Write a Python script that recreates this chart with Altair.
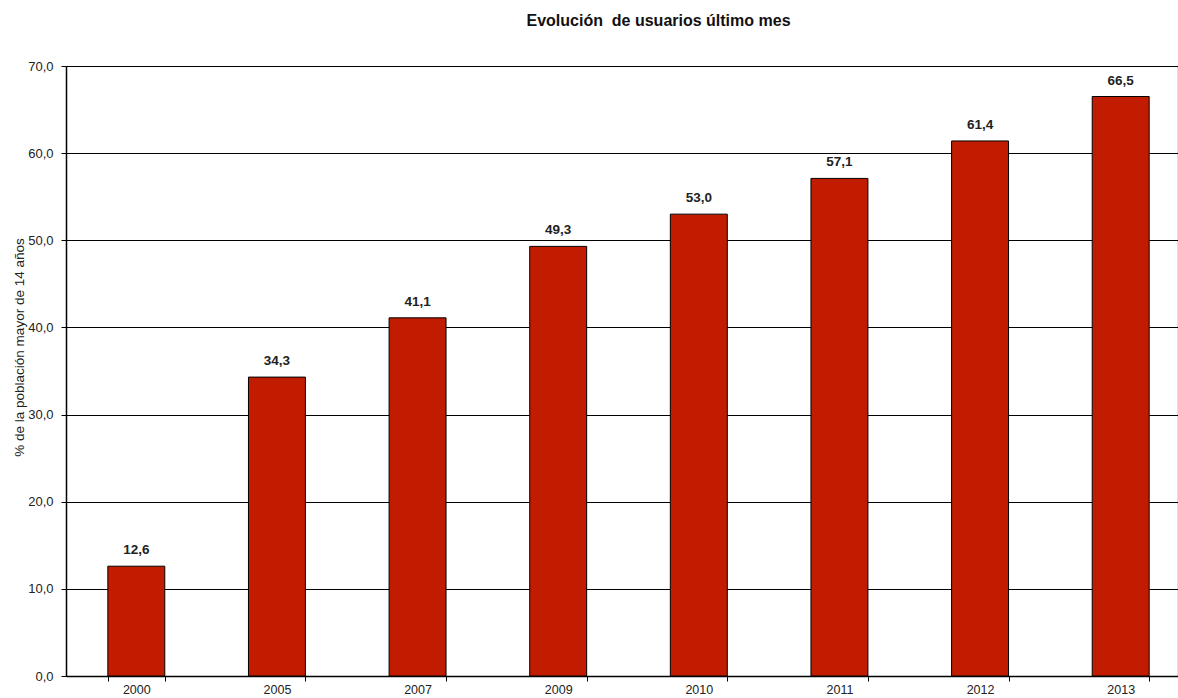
import altair as alt
import pandas as pd

years = ["2000", "2005", "2007", "2009", "2010", "2011", "2012", "2013"]
users_pct = [12.6, 34.3, 41.1, 49.3, 53.0, 57.1, 61.4, 66.5]

df = pd.DataFrame({"year": years, "pct": users_pct})

FONT = "Liberation Sans"
BAR_RED = "#C21C00"
TEXT = "#222222"

# The category band runs slightly past the right edge of the page,
# so the last bar sits close to the border.
x = alt.X(
    "year:N",
    sort=years,
    title=None,
    scale=alt.Scale(range=[0, 1125], paddingInner=0.595, paddingOuter=0.2975),
    axis=alt.Axis(
        labelAngle=0,
        labelFont=FONT,
        labelFontSize=12.5,
        labelColor=TEXT,
        labelPadding=2,
        domainColor="black",
        domainWidth=1.5,
        tickColor="black",
        tickSize=5,
        tickBand="extent",
        grid=False,
    ),
)

y = alt.Y(
    "pct:Q",
    title="% de la población mayor de 14 años",
    scale=alt.Scale(domain=[0, 70], nice=False),
    axis=alt.Axis(
        values=[0, 10, 20, 30, 40, 50, 60, 70],
        labelExpr="replace(format(datum.value, '.1f'), '.', ',')",
        labelFont=FONT,
        labelFontSize=13,
        labelColor=TEXT,
        labelPadding=8,
        titleFont=FONT,
        titleFontSize=13.5,
        titleFontWeight="normal",
        titleColor=TEXT,
        titleAngle=-90,
        titleAlign="center",
        titleBaseline="middle",
        titleX=-47,
        titleY=281,
        domainColor="black",
        domainWidth=1.5,
        tickColor="black",
        tickSize=5,
        grid=True,
        gridColor="black",
        gridWidth=1,
        gridOpacity=1,
    ),
)

bars = alt.Chart(df).mark_bar(
    color=BAR_RED, stroke="black", strokeWidth=1
).encode(x=x, y=y)

labels = alt.Chart(df).transform_calculate(
    label="replace(format(datum.pct, '.1f'), '.', ',')"
).mark_text(
    font=FONT, fontSize=13.5, fontWeight="bold", color=TEXT,
    baseline="bottom", dy=-9,
).encode(x=alt.X("year:N", sort=years), y="pct:Q", text="label:N")

chart = (
    alt.layer(bars, labels)
    .properties(
        width=1111,
        height=610,
        title=alt.TitleParams(
            "Evolución\u00a0 de usuarios último mes",
            font=FONT,
            fontSize=16,
            fontWeight="bold",
            color="#111111",
            anchor="middle",
            dx=37,
            offset=31,
        ),
        padding={"left": 66, "top": 66, "right": 1, "bottom": 22},
        autosize=alt.AutoSizeParams(type="none"),
    )
    .configure_view(stroke=None)
    .configure(background="white")
)

chart.save("out.html", embed_options={"renderer": "svg", "actions": False})
